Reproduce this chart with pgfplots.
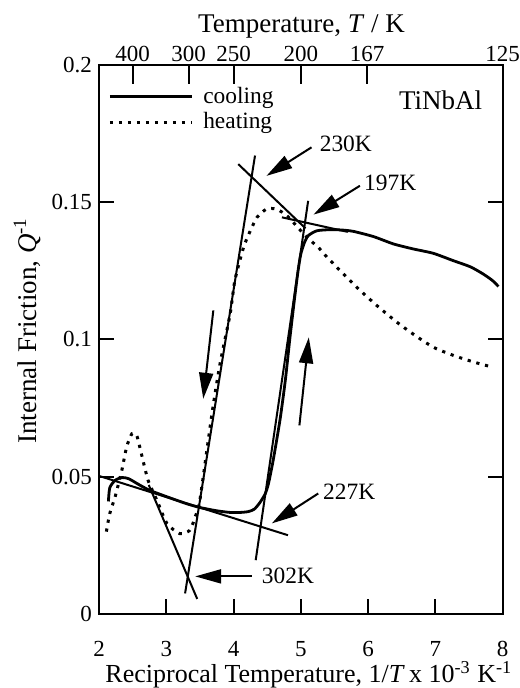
\documentclass[border=0pt]{standalone}
\usepackage{pgfplots}
\pgfplotsset{compat=1.18}
\usepackage{fontspec}
\setmainfont{Liberation Serif}
\usetikzlibrary{arrows.meta}
\begin{document}
\begin{tikzpicture}
\begin{axis}[
  name=main, at={(0,0)}, anchor=south west,
  scale only axis, width=201.75pt, height=274.5pt,
  xmin=2, xmax=8, ymin=0, ymax=0.2,
  axis line style={line width=1pt},
  tick style={line width=1pt, black},
  tick align=inside, major tick length=7.5pt,
  xtick={2,3,4,5,6,7,8}, xticklabels={2,3,4,5,6,7,8},
  xtick pos=lower, ytick pos=both,
  ytick={0,0.05,0.1,0.15,0.2}, yticklabels={0,0.05,0.1,0.15,0.2},
  /pgf/number format/assume math mode=true,
  tick label style={font=\fontsize{11.5}{13}\selectfont},
  xticklabel style={yshift=-10pt},
  xlabel={Reciprocal Temperature, 1/\textit{T}\,x 10\textsuperscript{-3} K\textsuperscript{-1}},
  xlabel style={font=\fontsize{13}{15}\selectfont, at={(axis description cs:0.52,0)}, anchor=center, yshift=-30.5pt},
  ylabel={Internal Friction, \textit{Q}\textsuperscript{-1}},
  ylabel style={font=\fontsize{13.5}{15}\selectfont, at={(axis description cs:-0.178,0.516)}, anchor=center},
  legend style={draw=none, fill=none, at={(axis description cs:0.022,0.962)}, anchor=north west,
    font=\fontsize{11.7}{13}\selectfont, inner sep=0pt, row sep=2pt,
    nodes={inner sep=0.5pt},
    /tikz/every odd column/.append style={column sep=4.5pt}},
  legend cell align=left,
  legend image code/.code={\draw[#1] (0pt,0pt) -- (41pt,0pt);},
]
% cooling
\addplot[black, line width=1.4pt, smooth, tension=0.4] coordinates {
(2.14,0.041) (2.16,0.046) (2.24,0.0487) (2.34,0.0497) (2.44,0.0493) (2.61,0.0469)
(2.76,0.045) (3.01,0.0427) (3.30,0.0402) (3.50,0.0388) (3.75,0.0376) (3.95,0.0370)
(4.10,0.0370) (4.22,0.0373) (4.31,0.0382) (4.39,0.0405) (4.47,0.0437) (4.52,0.0475)
(4.59,0.056) (4.69,0.0705) (4.77,0.085) (4.84,0.1008) (4.91,0.1154) (4.96,0.1250)
(5.00,0.1310) (5.05,0.1350) (5.11,0.1378) (5.24,0.1396) (5.43,0.1400) (5.60,0.1399)
(5.78,0.1394) (6.08,0.1375) (6.38,0.1348) (6.67,0.1330) (6.97,0.1314) (7.27,0.1287)
(7.52,0.1265) (7.71,0.1239) (7.85,0.1215) (7.94,0.1193)
};
\addlegendentry{cooling}
% heating
\addplot[black, line width=1.5pt, dash pattern=on 1.6pt off 2.9pt, smooth, tension=0.4] coordinates {
(2.11,0.030) (2.16,0.0366) (2.24,0.0427) (2.34,0.0524) (2.41,0.0608) (2.49,0.0657)
(2.56,0.0651) (2.63,0.0584) (2.73,0.0487) (2.86,0.0415) (3.01,0.0330) (3.20,0.0293)
(3.35,0.0305) (3.43,0.0354) (3.50,0.0415) (3.68,0.0730) (3.80,0.0912) (3.95,0.1093)
(4.02,0.1215) (4.15,0.1336) (4.25,0.1396) (4.35,0.1445) (4.49,0.1475) (4.64,0.1475)
(4.80,0.1450) (4.95,0.1410) (5.10,0.1370) (5.26,0.1336) (5.39,0.1300) (5.61,0.1245)
(5.86,0.1184) (6.13,0.1124) (6.43,0.1063) (6.67,0.1020) (6.97,0.0972) (7.27,0.0942)
(7.57,0.0918) (7.81,0.0902)
};
\addlegendentry{heating}
% tangent lines
\addplot[black, line width=1pt, forget plot] coordinates {(3.28,0.0075) (4.32,0.167)};
\addplot[black, line width=1pt, forget plot] coordinates {(4.07,0.1639) (5.07,0.1405)};
\addplot[black, line width=1pt, forget plot] coordinates {(4.72,0.1445) (5.70,0.1392)};
\addplot[black, line width=1pt, forget plot] coordinates {(4.33,0.0196) (5.11,0.1505)};
\addplot[black, line width=1pt, forget plot] coordinates {(2.00,0.0503) (4.81,0.0287)};
\addplot[black, line width=1pt, forget plot] coordinates {(2.74,0.0470) (3.46,0.0055)};
% arrows
\draw[line width=1pt, -{Triangle[length=13pt,width=7pt]}] (axis cs:5.16,0.170) -- (axis cs:4.49,0.1596);
\draw[line width=1pt, -{Triangle[length=13pt,width=7pt]}] (axis cs:5.88,0.156) -- (axis cs:5.19,0.1455);
\draw[line width=1pt, -{Triangle[length=13pt,width=7pt]}] (axis cs:5.26,0.0439) -- (axis cs:4.57,0.033);
\draw[line width=1pt, -{Triangle[length=13pt,width=7pt]}] (axis cs:4.27,0.0137) -- (axis cs:3.43,0.0137);
\draw[line width=1pt, -{Triangle[length=13pt,width=7pt]}] (axis cs:3.70,0.1106) -- (axis cs:3.55,0.0784);
\draw[line width=1pt, -{Triangle[length=13pt,width=7pt]}] (axis cs:4.98,0.0687) -- (axis cs:5.12,0.1008);
% labels
\node[font=\fontsize{11.7}{13}\selectfont] at (axis cs:5.67,0.1713) {230K};
\node[font=\fontsize{11.7}{13}\selectfont] at (axis cs:6.33,0.1570) {197K};
\node[font=\fontsize{11.7}{13}\selectfont] at (axis cs:5.72,0.0444) {227K};
\node[font=\fontsize{11.7}{13}\selectfont] at (axis cs:4.81,0.0138) {302K};
\node[font=\fontsize{13.5}{15}\selectfont] at (axis cs:7.08,0.1873) {TiNbAl};
\end{axis}
\begin{axis}[
  at={(0,0)}, anchor=south west,
  scale only axis, width=201.75pt, height=274.5pt,
  xmin=2, xmax=8, ymin=0, ymax=0.2,
  axis x line*=top, axis y line=none,
  axis line style={line width=1pt},
  tick style={line width=1pt, black},
  tick align=inside, major tick length=9.5pt,
  xtick={2.5,3.3333,4,5,5.988,8}, xticklabels={400,300,250,200,167,125},
  /pgf/number format/assume math mode=true,
  tick label style={font=\fontsize{11.5}{13}\selectfont},
  xticklabel style={yshift=-2pt},
  xlabel={Temperature, \textit{T} / K},
  xlabel style={font=\fontsize{13.5}{15}\selectfont, at={(axis description cs:0.502,1)}, anchor=center, yshift=19pt},
]
\end{axis}
\pgfresetboundingbox
\path[use as bounding box] (-49.5pt,-37pt) rectangle (210pt,307pt);
\end{tikzpicture}
\end{document}
